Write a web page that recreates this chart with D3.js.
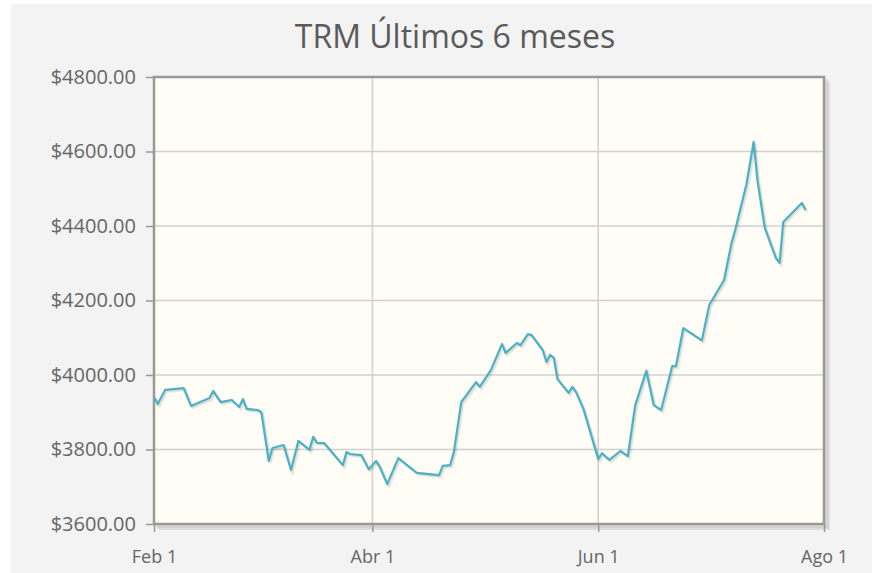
<!DOCTYPE html>
<html>
<head>
<meta charset="utf-8">
<script src="https://cdn.jsdelivr.net/npm/d3@7"></script>
<style>
  body { margin: 0; background: #fff; }
  text { font-family: "Trebuchet MS", "Open Sans", sans-serif; }
</style>
</head>
<body>
<div id="chart"></div>
<script>
var chart_title = 'TRM Últimos 6 meses';

var dates = [
  '2022-02-01','2022-02-02','2022-02-04','2022-02-09','2022-02-11','2022-02-16','2022-02-17','2022-02-19','2022-02-22','2022-02-24','2022-02-25','2022-02-26',
  '2022-03-01','2022-03-02','2022-03-04','2022-03-05','2022-03-08','2022-03-10','2022-03-12','2022-03-15','2022-03-16','2022-03-17','2022-03-19','2022-03-24','2022-03-25','2022-03-26','2022-03-29','2022-03-31',
  '2022-04-02','2022-04-03','2022-04-05','2022-04-08','2022-04-13','2022-04-19','2022-04-20','2022-04-22','2022-04-23','2022-04-25','2022-04-29','2022-04-30',
  '2022-05-03','2022-05-06','2022-05-07','2022-05-10','2022-05-11','2022-05-13','2022-05-14','2022-05-17','2022-05-18','2022-05-19','2022-05-20','2022-05-21','2022-05-24','2022-05-25','2022-05-26','2022-05-28',
  '2022-06-01','2022-06-02','2022-06-04','2022-06-07','2022-06-09','2022-06-11','2022-06-14','2022-06-16','2022-06-18','2022-06-21','2022-06-22','2022-06-24','2022-06-29',
  '2022-07-01','2022-07-05','2022-07-07','2022-07-08','2022-07-11','2022-07-13','2022-07-14','2022-07-16','2022-07-19','2022-07-20','2022-07-21','2022-07-26','2022-07-27'
];

var trm_values = [
  3941,3922,3960,3965,3917,3938,3957,3927,3933,3914,3935,3909,
  3906,3900,3769,3804,3812,3745,3823,3799,3834,3818,3817,3758,3793,3788,3785,3747,
  3769,3753,3707,3777,3737,3731,3756,3758,3793,3927,3981,3968,
  4013,4083,4059,4086,4080,4110,4107,4067,4035,4054,4046,3989,3952,3968,3954,3909,
  3774,3790,3772,3796,3782,3919,4011,3919,3906,4024,4024,4126,4093,
  4188,4255,4354,4389,4510,4626,4523,4395,4314,4301,4411,4462,4443
];

var y_ticks = [3600, 3800, 4000, 4200, 4400, 4600, 4800];
var x_tick_dates = ['2022-02-01', '2022-04-01', '2022-06-01', '2022-08-01'];
var x_tick_labels = ['Feb 1', 'Abr 1', 'Jun 1', 'Ago 1'];

var color_page = '#f3f3f3';
var color_grid_bg = '#fffdf6';
var color_border = '#999';
var color_gridline = '#d0d0d0';
var color_series = '#4bb2c5';
var color_text = '#666';

var plot = {left: 154, right: 824, top: 77, bottom: 524};

function setAttrs(sel, attrs) {
    for (var k in attrs) sel.attr(k, attrs[k]);
    return sel;
}

var parse = d3.utcParse('%Y-%m-%d');
var series = dates.map(function(d, i) { return {date: parse(d), value: trm_values[i]}; });

var x = d3.scaleUtc()
    .domain([parse(x_tick_dates[0]), parse(x_tick_dates[x_tick_dates.length - 1])])
    .range([plot.left, plot.right]);
var y = d3.scaleLinear()
    .domain([y_ticks[0], y_ticks[y_ticks.length - 1]])
    .range([plot.bottom, plot.top]);

var svg = d3.select('#chart').append('svg')
    .attr('width', 872).attr('height', 573);

// page background (white strip top/left like the screenshot)
setAttrs(svg.append('rect'), {x: 11, y: 4, width: 861, height: 569, fill: color_page});

// title
setAttrs(svg.append('text'), {x: 455, y: 48, 'text-anchor': 'middle', 'font-size': 32, fill: '#5a5a5a'})
    .text(chart_title);

// grid shadow + background
[1.5, 3, 4.5].forEach(function(o) {
    setAttrs(svg.append('path'), {
        d: 'M' + (plot.right + o) + ',' + (plot.top + o) + ' L' + (plot.right + o) + ',' + (plot.bottom + o) + ' L' + (plot.left + o) + ',' + (plot.bottom + o),
        fill: 'none', stroke: 'rgba(0,0,0,0.07)', 'stroke-width': 3
    });
});
setAttrs(svg.append('rect'), {x: plot.left, y: plot.top, width: plot.right - plot.left, height: plot.bottom - plot.top, fill: color_grid_bg});

// gridlines
var grid = svg.append('g').attr('class', 'grid');
grid.selectAll('line.h').data(y_ticks.slice(1, -1)).enter().append('line')
    .attr('x1', plot.left).attr('x2', plot.right)
    .attr('y1', function(d) { return y(d); }).attr('y2', function(d) { return y(d); })
    .attr('stroke', color_gridline).attr('stroke-width', 1.5);
grid.selectAll('line.v').data(x_tick_dates.slice(1, -1)).enter().append('line')
    .attr('y1', plot.top).attr('y2', plot.bottom)
    .attr('x1', function(d) { return x(parse(d)); }).attr('x2', function(d) { return x(parse(d)); })
    .attr('stroke', color_gridline).attr('stroke-width', 1.5);

// axes
var yAxis = d3.axisLeft(y).tickValues(y_ticks).tickSize(8).tickPadding(10)
    .tickFormat(function(d) { return '$' + d3.format('.2f')(d); });
var gy = svg.append('g').attr('transform', 'translate(' + plot.left + ',0)').call(yAxis);
var xAxis = d3.axisBottom(x).tickValues(x_tick_dates.map(parse)).tickSize(8).tickPadding(18)
    .tickFormat(function(d, i) { return x_tick_labels[i]; });
var gx = svg.append('g').attr('transform', 'translate(0,' + plot.bottom + ')').call(xAxis);
[gx, gy].forEach(function(g) {
    g.select('.domain').remove();
    g.selectAll('line').attr('stroke', color_border).attr('stroke-width', 1.5);
    g.selectAll('text').attr('fill', color_text)
        .attr('font-family', '"Trebuchet MS", "Open Sans", sans-serif');
});
gy.selectAll('text').attr('font-size', 20);
gx.selectAll('text').attr('font-size', 18);

// series with shadow
var line = d3.line()
    .x(function(d) { return x(d.date); })
    .y(function(d) { return y(d.value); });
[1, 2, 3].forEach(function(o) {
    setAttrs(svg.append('path').datum(series), {
        d: line, fill: 'none', stroke: 'rgba(0,0,0,0.05)', 'stroke-width': 2.5,
        transform: 'translate(' + (o * 0.7) + ',' + (o * 0.7) + ')'
    });
});
setAttrs(svg.append('path').datum(series), {
    d: line, fill: 'none', stroke: color_series, 'stroke-width': 2.2, 'stroke-linejoin': 'round'
});

// border
setAttrs(svg.append('rect'), {
    x: plot.left, y: plot.top, width: plot.right - plot.left, height: plot.bottom - plot.top,
    fill: 'none', stroke: color_border, 'stroke-width': 2.5
});
</script>
</body>
</html>
